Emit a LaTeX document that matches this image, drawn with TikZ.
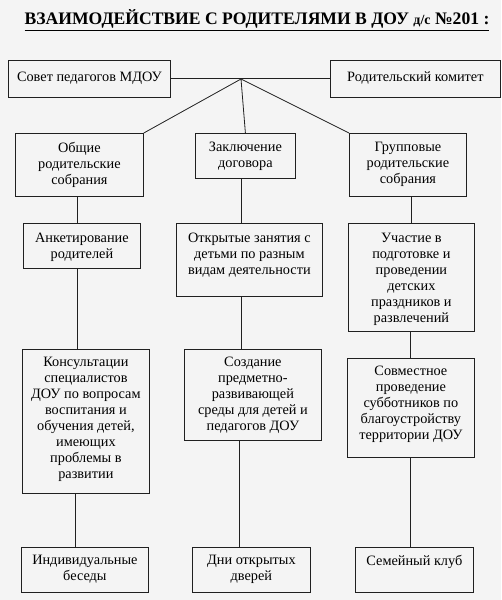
\documentclass[tikz,border=0pt]{standalone}
\usepackage{fontspec}
\setmainfont{Liberation Serif}
\definecolor{bgc}{HTML}{F4F4F4}
\definecolor{ln}{HTML}{202020}
\begin{document}
\begin{tikzpicture}[x=1pt,y=1pt,
  box/.style={draw=ln, line width=0.8pt, rectangle, inner sep=0pt, anchor=north west},
  txt/.style={anchor=north, align=center, inner sep=0pt, font=\fontsize{14.3}{16}\selectfont},
  conn/.style={draw=ln, line width=0.8pt}]
\fill[bgc] (0,0) rectangle (501,600);
\useasboundingbox (0,0) rectangle (501,600);
% title
\node[anchor=base, inner sep=0pt, font=\fontsize{17.6}{20}\selectfont\bfseries] (title) at (257,575)
  {\underline{ВЗАИМОДЕЙСТВИЕ С РОДИТЕЛЯМИ В ДОУ {\fontsize{14}{16}\selectfont д/с} №201 :}};
% top row
\node[box, minimum width=162, minimum height=37] (sovet) at (8,540) {};
\node[txt] (sovet-t) at ([yshift=-12]sovet.north) {Совет педагогов МДОУ};
\node[box, minimum width=170, minimum height=37] (kom) at (330,540) {};
\node[txt] (kom-t) at ([yshift=-12]kom.north) {Родительский комитет};
\coordinate (J) at (241,521);
% row 2
\node[box, minimum width=128, minimum height=63] (r2a) at (15,467) {};
\node[txt] (r2a-t) at ([yshift=-9]r2a.north) {Общие\\родительские\\собрания};
\node[box, minimum width=100, minimum height=45] (r2b) at (195,467) {};
\node[txt] (r2b-t) at ([yshift=-9]r2b.north) {Заключение\\договора};
\node[box, minimum width=117, minimum height=63] (r2c) at (349,467) {};
\node[txt] (r2c-t) at ([yshift=-9]r2c.north) {Групповые\\родительские\\собрания};
% row 3
\node[box, minimum width=117, minimum height=45] (r3a) at (23,377) {};
\node[txt] (r3a-t) at ([yshift=-10]r3a.north) {Анкетирование\\родителей};
\node[box, minimum width=146, minimum height=73] (r3b) at (176,377) {};
\node[txt] (r3b-t) at ([yshift=-10]r3b.north) {Открытые занятия с\\детьми по разным\\видам деятельности};
\node[box, minimum width=126, minimum height=108] (r3c) at (348,377) {};
\node[txt] (r3c-t) at ([yshift=-10]r3c.north) {Участие в\\подготовке и\\проведении\\детских\\праздников и\\развлечений};
% row 4
\node[box, minimum width=127, minimum height=144] (r4a) at (22,251) {};
\node[txt] (r4a-t) at ([yshift=-8]r4a.north) {Консультации\\специалистов\\ДОУ по вопросам\\воспитания и\\обучения детей,\\имеющих\\проблемы в\\развитии};
\node[box, minimum width=137, minimum height=91] (r4b) at (184,251) {};
\node[txt] (r4b-t) at ([yshift=-8]r4b.north) {Создание\\предметно-\\развивающей\\среды для детей и\\педагогов ДОУ};
\node[box, minimum width=127, minimum height=99] (r4c) at (347,242) {};
\node[txt] (r4c-t) at ([yshift=-8]r4c.north) {Совместное\\проведение\\субботников по\\благоустройству\\территории ДОУ};
% row 5
\node[box, minimum width=127, minimum height=45] (r5a) at (21,53) {};
\node[txt] (r5a-t) at ([yshift=-8]r5a.north) {Индивидуальные\\беседы};
\node[box, minimum width=118, minimum height=45] (r5b) at (192,53) {};
\node[txt] (r5b-t) at ([yshift=-8]r5b.north) {Дни открытых\\дверей};
\node[box, minimum width=118, minimum height=45] (r5c) at (355,53) {};
\node[txt] (r5c-t) at ([yshift=-8]r5c.north) {Семейный клуб};
% connectors
\draw[conn] (sovet.east) -- (kom.west);
\draw[conn] (J) -- (r2a.north east);
\draw[conn] (J) -- (r2b.north);
\draw[conn] (J) -- (r2c.north west);
\draw[conn] (r2a.south -| 77,0) -- (r3a.north -| 77,0);
\draw[conn] (r2b.south -| 241,0) -- (r3b.north -| 241,0);
\draw[conn] (r2c.south -| 411,0) -- (r3c.north -| 411,0);
\draw[conn] (r3a.south -| 77,0) -- (r4a.north -| 77,0);
\draw[conn] (r3b.south -| 241,0) -- (r4b.north -| 241,0);
\draw[conn] (r3c.south -| 410,0) -- (r4c.north -| 410,0);
\draw[conn] (r4a.south -| 75,0) -- (r5a.north -| 75,0);
\draw[conn] (r4b.south -| 239,0) -- (r5b.north -| 239,0);
\draw[conn] (r4c.south -| 410,0) -- (r5c.north -| 410,0);
\end{tikzpicture}
\end{document}
